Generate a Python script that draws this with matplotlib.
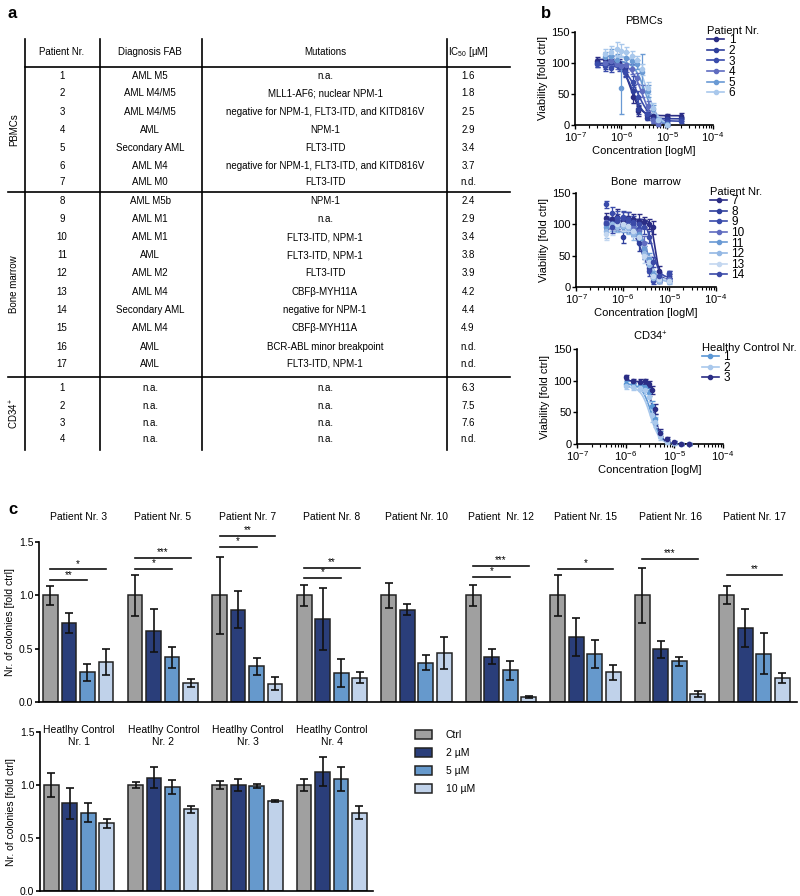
import numpy as np
import matplotlib
matplotlib.use("Agg")
import matplotlib.pyplot as plt
from matplotlib.patches import Patch
from matplotlib.lines import Line2D

plt.rcParams['font.family'] = ['Liberation Sans', 'DejaVu Sans']
plt.rcParams['mathtext.fontset'] = 'custom'
plt.rcParams['mathtext.rm'] = 'Liberation Sans'
plt.rcParams['mathtext.it'] = 'Liberation Sans:italic'
plt.rcParams['axes.linewidth'] = 1.2

# ---- panel a : table ----
col_headers = ["Patient Nr.", "Diagnosis FAB", "Mutations", "IC$_{50}$ [µM]"]
patient_nr = ["1", "2", "3", "4", "5", "6", "7",
              "8", "9", "10", "11", "12", "13", "14", "15", "16", "17",
              "1", "2", "3", "4"]
diagnosis = ["AML M5", "AML M4/M5", "AML M4/M5", "AML", "Secondary AML", "AML M4", "AML M0",
             "AML M5b", "AML M1", "AML M1", "AML", "AML M2", "AML M4", "Secondary AML",
             "AML M4", "AML", "AML",
             "n.a.", "n.a.", "n.a.", "n.a."]
mutations = ["n.a.", "MLL1-AF6; nuclear NPM-1",
             "negative for NPM-1, FLT3-ITD, and KITD816V", "NPM-1", "FLT3-ITD",
             "negative for NPM-1, FLT3-ITD, and KITD816V", "FLT3-ITD",
             "NPM-1", "n.a.", "FLT3-ITD, NPM-1", "FLT3-ITD, NPM-1", "FLT3-ITD",
             "CBFβ-MYH11A", "negative for NPM-1", "CBFβ-MYH11A",
             "BCR-ABL minor breakpoint", "FLT3-ITD, NPM-1",
             "n.a.", "n.a.", "n.a.", "n.a."]
ic50 = ["1.6", "1.8", "2.5", "2.9", "3.4", "3.7", "n.d.",
        "2.4", "2.9", "3.4", "3.8", "3.9", "4.2", "4.4", "4.9", "n.d.", "n.d.",
        "6.3", "7.5", "7.6", "n.d."]
groups = ["PBMCs", "Bone marrow", "CD34$^{+}$"]

# ---- panel b : dose response (conc in µM, viability %) ----
pb_patients = ["1", "2", "3", "4", "5", "6"]
pb_colors = ["#2b2d85", "#2f3f9c", "#3a4cab", "#5f6cc0", "#6a9ad4", "#a9c8ec"]
pb_conc = [
    [0.3, 0.45, 0.6, 0.9, 1.2, 1.8, 2.4, 3.6, 5, 10, 20],
    [0.3, 0.45, 0.6, 0.9, 1.2, 1.8, 2.4, 3.6, 5, 10, 20],
    [0.3, 0.45, 0.6, 0.9, 1.2, 1.8, 2.4, 3.6, 5, 10, 20],
    [0.45, 0.6, 0.8, 1.0, 1.3, 1.7, 2.2, 2.9, 3.8, 5, 6.5, 10],
    [0.45, 0.6, 0.8, 1.0, 1.3, 1.7, 2.2, 2.9, 3.8, 5, 6.5, 10],
    [0.45, 0.6, 0.8, 1.0, 1.3, 1.7, 2.2, 2.9, 3.8, 5, 6.5, 10],
]
pb_vals = [
    [104, 106, 103, 100, 90, 45, 22, 16, 15, 15, 15],
    [100, 98, 101, 96, 88, 55, 25, 12, 10, 10, 10],
    [98, 95, 92, 94, 86, 70, 45, 18, 8, 5, 6],
    [100, 104, 98, 95, 96, 90, 75, 55, 30, 8, 2, 0],
    [110, 112, 105, 60, 108, 104, 98, 85, 55, 25, 8, 2],
    [115, 118, 122, 120, 118, 112, 105, 90, 60, 28, 8, 0],
]
pb_sd = [
    [5, 6, 5, 6, 8, 10, 8, 5, 4, 3, 4],
    [6, 7, 5, 6, 9, 10, 8, 4, 3, 3, 3],
    [5, 8, 6, 7, 8, 9, 10, 6, 4, 3, 3],
    [6, 8, 7, 6, 10, 8, 9, 10, 8, 5, 3, 2],
    [8, 10, 9, 42, 10, 8, 7, 30, 10, 8, 4, 2],
    [8, 10, 12, 10, 8, 8, 7, 9, 10, 8, 4, 2],
]
# fit params: top, bottom, ic50 (µM), hill
pb_fit = [(106, 15, 1.6, 4.0), (100, 10, 1.8, 3.5), (97, 6, 2.3, 3.0),
          (100, 0, 2.9, 3.5), (104, 0, 3.4, 3.5), (112, 0, 3.7, 3.5)]

bm_patients = ["7", "8", "9", "10", "11", "12", "13", "14"]
bm_colors = ["#2b2d85", "#2f3f9c", "#3a4cab", "#5f6cc0", "#6a9ad4", "#94b8e4", "#c3d7f0", "#3b4aa8"]
bm_conc = [0.45, 0.6, 0.75, 1.0, 1.3, 1.7, 2.2, 2.8, 3.6, 4.5, 6, 10]
bm_vals = [
    [110, 108, 112, 106, 110, 108, 106, 104, 100, 95, 25, 15],
    [100, 102, 98, 80, 96, 92, 70, 55, 30, 15, 12, 12],
    [132, 118, 110, 112, 105, 100, 92, 60, 25, 10, 10, 22],
    [104, 100, 102, 98, 96, 94, 90, 70, 40, 18, 14, 12],
    [96, 100, 98, 96, 95, 90, 85, 60, 45, 20, 12, 10],
    [90, 100, 96, 98, 94, 85, 80, 55, 35, 15, 10, 8],
    [85, 95, 100, 100, 98, 90, 80, 50, 40, 18, 12, 10],
    [102, 96, 105, 110, 108, 104, 100, 95, 80, 40, 18, 20],
]
bm_sd = [
    [8, 10, 12, 8, 10, 8, 10, 8, 8, 10, 8, 5],
    [8, 9, 8, 10, 8, 10, 12, 10, 8, 5, 4, 3],
    [6, 10, 12, 9, 8, 9, 10, 12, 8, 5, 4, 4],
    [10, 8, 9, 8, 8, 10, 10, 12, 10, 6, 4, 3],
    [8, 10, 8, 8, 9, 8, 10, 12, 10, 6, 5, 3],
    [12, 10, 8, 8, 9, 10, 12, 10, 10, 6, 4, 3],
    [10, 12, 8, 10, 8, 10, 10, 12, 10, 6, 5, 3],
    [8, 10, 12, 10, 12, 10, 8, 10, 10, 8, 6, 5],
]
bm_fit = [(108, 12, 5.0, 9.0), (98, 12, 2.6, 4.0), (110, 12, 2.9, 4.5),
          (100, 12, 3.3, 5.0), (98, 10, 3.4, 4.5), (97, 8, 3.0, 4.0),
          (97, 10, 3.2, 4.0), (106, 15, 4.4, 6.0)]

cd_patients = ["1", "2", "3"]
cd_colors = ["#5b97d5", "#a9c8ec", "#2b2d85"]
cd_conc = [1.0, 1.4, 2.0, 2.5, 3.0, 3.5, 4.0, 5.0, 7.0, 10, 14, 20]
cd_vals = [
    [95, 94, 93, 90, 82, 60, 40, 15, 5, 2, 0, 0],
    [92, 90, 88, 85, 75, 45, 35, 12, 3, 1, 0, 0],
    [106, 100, 98, 99, 95, 85, 55, 18, 8, 3, 0, 0],
]
cd_sd = [
    [4, 4, 5, 5, 6, 8, 8, 5, 3, 2, 1, 1],
    [5, 4, 5, 6, 8, 10, 8, 5, 3, 2, 1, 1],
    [3, 3, 4, 4, 5, 6, 8, 5, 3, 2, 1, 1],
]
cd_fit = [(95, 0, 3.4, 4.5), (91, 0, 3.2, 4.5), (100, 0, 3.8, 5.5)]

# ---- panel c : colony assays ----
conditions = ["Ctrl", "2 µM", "5 µM", "10 µM"]
cond_colors = ["#a0a0a0", "#2a3e7a", "#6699cc", "#c0d2ea"]
aml_titles = ["Patient Nr. 3", "Patient Nr. 5", "Patient Nr. 7", "Patient Nr. 8",
              "Patient Nr. 10", "Patient  Nr. 12", "Patient Nr. 15", "Patient Nr. 16",
              "Patient Nr. 17"]
aml_means = [[1.0, 0.74, 0.28, 0.375], [1.0, 0.67, 0.42, 0.18], [1.0, 0.866, 0.334, 0.17],
             [1.0, 0.775, 0.27, 0.228], [1.0, 0.866, 0.366, 0.462], [1.0, 0.425, 0.297, 0.05],
             [1.0, 0.61, 0.45, 0.28], [1.0, 0.494, 0.38, 0.075], [1.0, 0.694, 0.453, 0.225]]
aml_err = [[0.09, 0.09, 0.08, 0.12], [0.19, 0.2, 0.1, 0.04], [0.36, 0.17, 0.08, 0.06],
           [0.1, 0.29, 0.13, 0.05], [0.12, 0.05, 0.07, 0.15], [0.1, 0.07, 0.09, 0.01],
           [0.19, 0.18, 0.13, 0.07], [0.26, 0.08, 0.045, 0.03], [0.085, 0.18, 0.19, 0.045]]
# significance: (group, target bar, height, label)
aml_sig = [(0, 2, 1.142, "**"), (0, 3, 1.244, "*"),
           (1, 2, 1.25, "*"), (1, 3, 1.354, "***"),
           (2, 2, 1.456, "*"), (2, 3, 1.56, "**"),
           (3, 2, 1.165, "*"), (3, 3, 1.26, "**"),
           (5, 2, 1.174, "*"), (5, 3, 1.275, "***"),
           (6, 3, 1.25, "*"), (7, 3, 1.342, "***"), (8, 3, 1.193, "**")]
hc_titles = ["Heatlhy Control\nNr. 1", "Heatlhy Control\nNr. 2",
             "Heatlhy Control\nNr. 3", "Heatlhy Control\nNr. 4"]
hc_means = [[1.0, 0.826, 0.738, 0.637], [1.0, 1.07, 0.978, 0.77],
            [1.0, 1.0, 0.987, 0.85], [1.0, 1.126, 1.057, 0.74]]
hc_err = [[0.11, 0.15, 0.09, 0.045], [0.03, 0.1, 0.065, 0.03],
          [0.035, 0.06, 0.02, 0.01], [0.06, 0.14, 0.11, 0.06]]

W, H = 800, 896
fig = plt.figure(figsize=(8, 8.96), dpi=100)

# full figure overlay in pixel coords
tab = fig.add_axes([0, 0, 1, 1])
tab.set_xlim(0, W)
tab.set_ylim(H, 0)
tab.axis('off')

tab.text(8, 14, "a", fontsize=12, fontweight='bold', va='center')
tab.text(541, 14, "b", fontsize=12, fontweight='bold', va='center')
tab.text(8, 510, "c", fontsize=12, fontweight='bold', va='center')

col_x = [62, 150, 325, 468]
vlines = [25, 100, 202, 447]
for x in vlines:
    tab.plot([x, x], [39, 450], color='k', lw=1.2)
tab.plot([25, 510], [67, 67], color='k', lw=1.2)
for i, h in enumerate(col_headers):
    tab.text(col_x[i], 52, h, fontsize=7, ha='center', va='center')

row_y = [76, 93, 112, 130, 148, 166, 182,
         201, 219, 237, 255, 273, 292, 310, 328, 347, 364,
         388, 406, 423, 439]
for i in range(len(patient_nr)):
    for j, col in enumerate([patient_nr, diagnosis, mutations, ic50]):
        tab.text(col_x[j], row_y[i], col[i], fontsize=7, ha='center', va='center')
group_bounds = [(67, 192), (192, 377), (377, 450)]
for k, g in enumerate(groups):
    y0, y1 = group_bounds[k]
    tab.text(14, (y0 + y1) / 2, g, fontsize=7, rotation=90, ha='center', va='center')
for y in [192, 377]:
    tab.plot([8, 510], [y, y], color='k', lw=1.2)


def hill(x, top, bottom, c50, h):
    return bottom + (top - bottom) / (1 + (x / c50) ** h)


def px_axes(left, right, top, bottom):
    return fig.add_axes([left / W, 1 - bottom / H, (right - left) / W, (bottom - top) / H])


def dose_panel(rect, title, names, colors, concs, vals, sds, fits, leg_title, leg_x):
    ax = px_axes(*rect)
    for i in range(len(names)):
        c = np.array(concs[i] if isinstance(concs[0], list) else concs) * 1e-6
        ax.errorbar(c, vals[i], yerr=sds[i], fmt='o', ms=3, color=colors[i],
                    ecolor=colors[i], elinewidth=0.9, capsize=1.8, clip_on=False, zorder=3)
        xs = np.logspace(np.log10(c.min()), np.log10(c.max()), 200)
        ax.plot(xs, hill(xs * 1e6, *fits[i]), color=colors[i], lw=1.2, zorder=2)
    ax.set_xscale('log')
    ax.set_xlim(1e-7, 1e-4)
    ax.set_ylim(0, 150)
    ax.set_yticks([0, 50, 100, 150])
    for s in ['top', 'right']:
        ax.spines[s].set_visible(False)
    ax.tick_params(labelsize=8, length=3, width=1, pad=1)
    ax.tick_params(which='minor', length=2, width=0.8)
    ax.set_title(title, fontsize=8, pad=6)
    ax.set_xlabel("Concentration [logM]", fontsize=8, labelpad=1)
    ax.set_ylabel("Viability [fold ctrl]", fontsize=8, labelpad=2)
    handles = [Line2D([], [], color=colors[i], marker='o', ms=3, lw=1.2) for i in range(len(names))]
    leg = ax.legend(handles, names, title=leg_title, loc='upper left', bbox_to_anchor=(leg_x, 1.155),
                    frameon=False, fontsize=8.5, title_fontsize=8, handlelength=1.4,
                    handletextpad=0.4, labelspacing=-0.12, borderpad=0.2)
    leg._legend_box.align = 'left'
    return ax


dose_panel((575, 713, 32, 125), "PBMCs", pb_patients, pb_colors, pb_conc, pb_vals, pb_sd,
           pb_fit, "Patient Nr.", 0.9)
dose_panel((576, 716, 193, 287), "Bone  marrow", bm_patients, bm_colors, bm_conc, bm_vals,
           bm_sd, bm_fit, "Patient Nr.", 0.9)
dose_panel((577, 723, 349, 444), "CD34$^{+}$", cd_patients, cd_colors, cd_conc, cd_vals,
           cd_sd, cd_fit, "Healthy Control Nr.", 0.8)

gstep = 4.57
bw = 0.8


def bar_panel(ax, titles, means, errs, title_y, sigs=()):
    for g in range(len(titles)):
        x = g * gstep + np.arange(4)
        ax.bar(x, means[g], width=bw, color=cond_colors, edgecolor='#222222', linewidth=1.1,
               zorder=2)
        ax.errorbar(x, means[g], yerr=errs[g], fmt='none', ecolor='#111111', elinewidth=1.2,
                    capsize=3, capthick=1.2, zorder=3, clip_on=False)
        ax.text(g * gstep + 1.5, title_y, titles[g], fontsize=7.5, ha='center', va='center',
                linespacing=1.2)
    for g, t, y, lab in sigs:
        x0 = g * gstep
        x1 = g * gstep + t
        ax.plot([x0, x1], [y, y], color='#111111', lw=1.2, clip_on=False)
        ax.text((x0 + x1) / 2, y + 0.005, lab, fontsize=7, ha='center', va='bottom')
    ax.set_ylim(0, 1.5)
    ax.set_yticks([0, 0.5, 1.0, 1.5])
    ax.set_yticklabels(["0.0", "0.5", "1.0", "1.5"])
    ax.set_xticks([])
    for s in ['top', 'right']:
        ax.spines[s].set_visible(False)
    ax.tick_params(labelsize=7.5, length=3, width=1.2, pad=1)
    ax.set_ylabel("Nr. of colonies [fold ctrl]", fontsize=7.5, labelpad=3)


ax1 = px_axes(39, 797, 542, 702)
ax1.set_xlim(-0.62, 40.35)
bar_panel(ax1, aml_titles, aml_means, aml_err, 1.735, aml_sig)

ax2 = px_axes(40, 373, 732, 891)
ax2.set_xlim(-0.62, 17.45)
bar_panel(ax2, hc_titles, hc_means, hc_err, 1.46)

leg_handles = [Patch(facecolor=cond_colors[i], edgecolor='#222222', linewidth=1.1)
               for i in range(4)]
fig.legend(leg_handles, conditions, loc='upper left', bbox_to_anchor=(406 / W, 1 - 721 / H),
           frameon=False, fontsize=7.5, handlelength=1.6, handleheight=0.9,
           handletextpad=1.3, labelspacing=0.75)

fig.savefig("out.png", dpi=100)
